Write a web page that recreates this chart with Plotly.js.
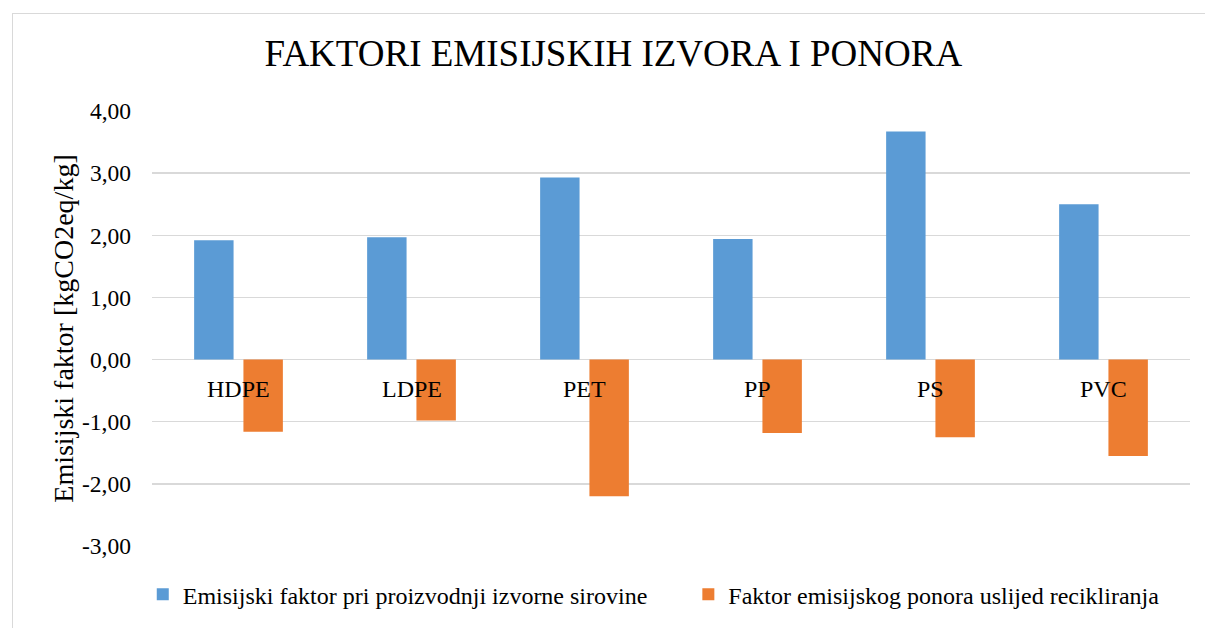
<!DOCTYPE html>
<html>
<head>
<meta charset="utf-8">
<script src="https://cdn.plot.ly/plotly-3.0.1.min.js"></script>
<style>
html,body{margin:0;padding:0;background:#fff;}
#wrap{position:relative;width:1205px;height:628px;overflow:hidden;}
#chart{position:absolute;left:0;top:0;width:1205px;height:628px;}
#frame{position:absolute;left:12px;top:13px;width:1300px;height:700px;border:1.5px solid #d9d9d9;pointer-events:none;}
</style>
</head>
<body>
<div id="wrap"><div id="chart"></div><div id="frame"></div></div>
<script>
const categories = ["HDPE", "LDPE", "PET", "PP", "PS", "PVC"];
const sourceFactor = [1.92, 1.97, 2.93, 1.94, 3.67, 2.50];
const sinkFactor = [-1.16, -0.98, -2.20, -1.18, -1.25, -1.55];
const seriesNames = ["Emisijski faktor pri proizvodnji izvorne sirovine", "Faktor emisijskog ponora uslijed recikliranja"];
const yTickVals = [-3, -2, -1, 0, 1, 2, 3, 4];
const yTickText = ["-3,00", "-2,00", "-1,00", "0,00", "1,00", "2,00", "3,00", "4,00"];
const titleText = "FAKTORI EMISIJSKIH IZVORA I PONORA";
const yTitle = "Emisijski faktor [kgCO2eq/kg]";

const font = "Liberation Serif";
const pad = "\u00a0".repeat(6);

const traces = [
  {type: "bar", x: categories, y: sourceFactor, name: seriesNames[0] + pad, marker: {color: "#5b9bd5"}, hoverinfo: "x+y"},
  {type: "bar", x: categories, y: sinkFactor, name: seriesNames[1], marker: {color: "#ed7d31"}, hoverinfo: "x+y"}
];

const annotations = categories.map(c => ({
  x: c, y: 0, xref: "x", yref: "y", text: c, showarrow: false,
  yanchor: "middle", xanchor: "center", yshift: -29, xshift: 0,
  font: {family: font, size: 24, color: "#000"}
}));

const layout = {
  width: 1205, height: 628,
  font: {family: font, color: "#000"},
  paper_bgcolor: "#fff", plot_bgcolor: "#fff",
  margin: {l: 152, r: 15, t: 111, b: 82, autoexpand: false},
  title: {text: titleText, font: {family: font, size: 37, color: "#000"}, x: 0.509, xanchor: "center", y: 0.915, yanchor: "middle"},
  barmode: "group", bargap: 0.43, bargroupgap: 0.2,
  xaxis: {showticklabels: false, showgrid: false, zeroline: false, showline: false, ticks: ""},
  yaxis: {
    range: [-3, 4], tickvals: yTickVals, ticktext: yTickText,
    showgrid: true, gridcolor: "#d9d9d9", gridwidth: 1.5,
    zeroline: true, zerolinecolor: "#d9d9d9", zerolinewidth: 1.5,
    showline: false, ticks: "", ticklabelstandoff: 20,
    tickfont: {family: font, size: 23.5, color: "#000"},
    title: {text: yTitle, font: {family: font, size: 28, color: "#000"}, standoff: 0}
  },
  legend: {orientation: "h", x: 0.4834, xanchor: "center", y: -0.06, yanchor: "top",
    font: {family: font, size: 24, color: "#000"}, itemwidth: 30, traceorder: "normal"},
  annotations: annotations,
  showlegend: true
};

Plotly.newPlot("chart", traces, layout, {displayModeBar: false, staticPlot: true});
</script>
</body>
</html>
